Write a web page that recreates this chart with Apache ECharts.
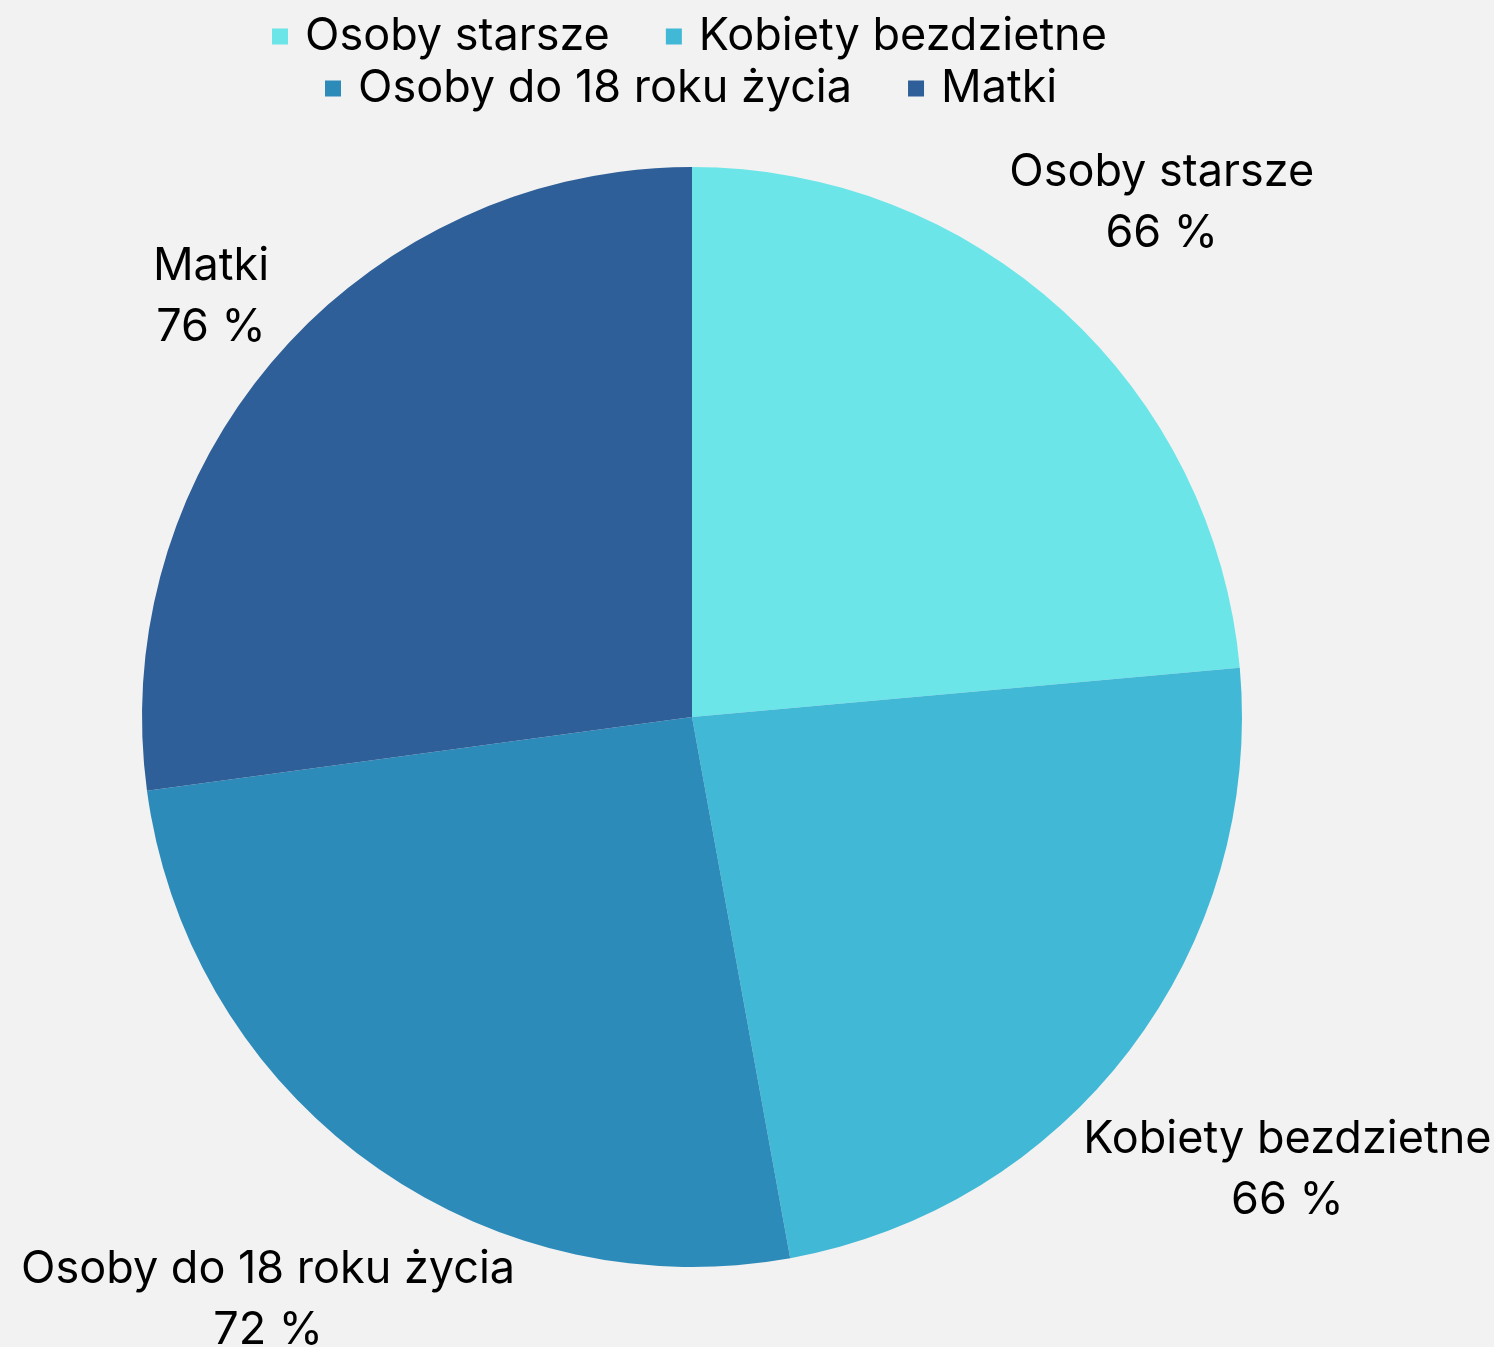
<!DOCTYPE html>
<html>
<head>
<meta charset="utf-8">
<script src="https://cdn.jsdelivr.net/npm/echarts@6/dist/echarts.min.js"></script>
<style>
html,body{margin:0;padding:0;background:#F2F2F2;}
#chart{width:1494px;height:1347px;}
</style>
</head>
<body>
<div id="chart"></div>
<script>
const categories = ['Osoby starsze', 'Kobiety bezdzietne', 'Osoby do 18 roku życia', 'Matki'];
const values = [66, 66, 72, 76];
const colors = ['#6CE5E8', '#41B8D5', '#2D8BBA', '#2F5F98'];

const FONT = 'Inter';
const FS = 45;
const CX = 692, CY = 717, R = 550, GAP = 12;

const total = values.reduce((a, b) => a + b, 0);
const mids = [];
let acc = 0;
values.forEach(v => { mids.push((acc + v / 2) / total * 2 * Math.PI); acc += v; });

const chart = echarts.init(document.getElementById('chart'));
const legendText = { fontFamily: FONT, fontSize: FS, color: '#000', padding: [0, 0, 0, 12] };
chart.setOption({
  backgroundColor: '#F2F2F2',
  color: colors,
  legend: [
    { data: categories.slice(0, 2), top: 9, left: 267, icon: 'rect', itemWidth: 16, itemHeight: 16, itemGap: 56, textStyle: legendText },
    { data: categories.slice(2), top: 61, left: 320, icon: 'rect', itemWidth: 16, itemHeight: 16, itemGap: 56, textStyle: legendText }
  ],
  series: [{
    type: 'pie',
    center: [CX, CY],
    radius: R,
    startAngle: 90,
    clockwise: true,
    silent: true,
    data: categories.map((c, i) => ({ name: c, value: values[i] })),
    label: {
      show: true,
      position: 'outside',
      formatter: '{b}\n{c} %',
      fontFamily: FONT,
      fontSize: FS,
      lineHeight: 61,
      color: '#000',
      align: 'center',
      overflow: 'none'
    },
    labelLine: { show: false },
    labelLayout: function (p) {
      const th = mids[p.dataIndex];
      const ux = Math.sin(th), uy = -Math.cos(th);
      const w = p.labelRect.width, h = p.labelRect.height * 0.82;
      const b = Math.abs(ux) * w / 2 + Math.abs(uy) * h / 2;
      const c = w * w / 4 + h * h / 4 - (R + GAP) * (R + GAP);
      const d = b + Math.sqrt(b * b - c);
      return { x: CX + d * ux, y: CY + d * uy, align: 'center', verticalAlign: 'middle' };
    }
  }]
});
</script>
</body>
</html>
